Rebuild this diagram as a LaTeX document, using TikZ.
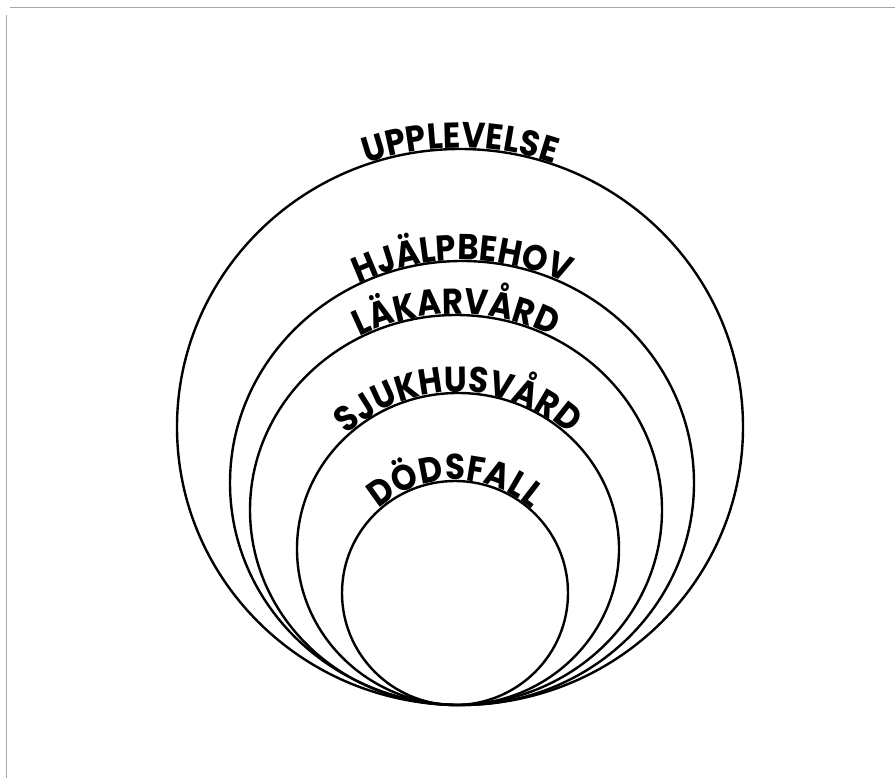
\documentclass[tikz,border=0pt]{standalone}
\usepackage{fontspec}
\newfontfamily\lab{Poppins}[FakeStretch=0.9]
\newcommand\labfont{\lab\bfseries\fontsize{36}{36}\selectfont}
\usetikzlibrary{decorations.text}
\begin{document}
\begin{tikzpicture}[x=1pt,y=1pt,
  ring/.style={line width=2.4pt},
  frameline/.style={gray!70,line width=0.7pt},
  arclabel/.style={decorate,decoration={text along path,text align=center,raise=1pt,text={|\labfont|#1}}}]
\useasboundingbox (0,0) rectangle (895,-778);
\draw[frameline] (10,-7) -- (895,-7);
\draw[frameline] (6,-15) -- (6,-778);
% centres
\coordinate (cU) at (460,-427);
\coordinate (cH) at (462,-483);
\coordinate (cL) at (456,-510);
\coordinate (cS) at (458,-549);
\coordinate (cD) at (455,-593);
% rings
\draw[ring] (cU) ellipse[x radius=283,y radius=278];
\draw[ring] (cH) ellipse[x radius=232,y radius=222];
\draw[ring] (cL) ellipse[x radius=206,y radius=195];
\draw[ring] (cS) ellipse[x radius=161,y radius=156];
\draw[ring] (cD) ellipse[x radius=113,y radius=112];
% labels
\path[arclabel={UPPLEVELSE}] (cU) ++(150:283 and 278) arc[start angle=150,end angle=30,x radius=283,y radius=278];
\path[arclabel={HJÄLPBEHOV}] (cH) ++(150:232 and 222) arc[start angle=150,end angle=30,x radius=232,y radius=222];
\path[arclabel={LÄKARV{\AA}RD}] (cL) ++(150:206 and 195) arc[start angle=150,end angle=30,x radius=206,y radius=195];
\path[arclabel={SJUKHUSV{\AA}RD}] (cS) ++(160:161 and 156) arc[start angle=160,end angle=20,x radius=161,y radius=156];
\path[arclabel={DÖDSFALL}] (cD) ++(170:113 and 112) arc[start angle=170,end angle=10,x radius=113,y radius=112];
\end{tikzpicture}
\end{document}
